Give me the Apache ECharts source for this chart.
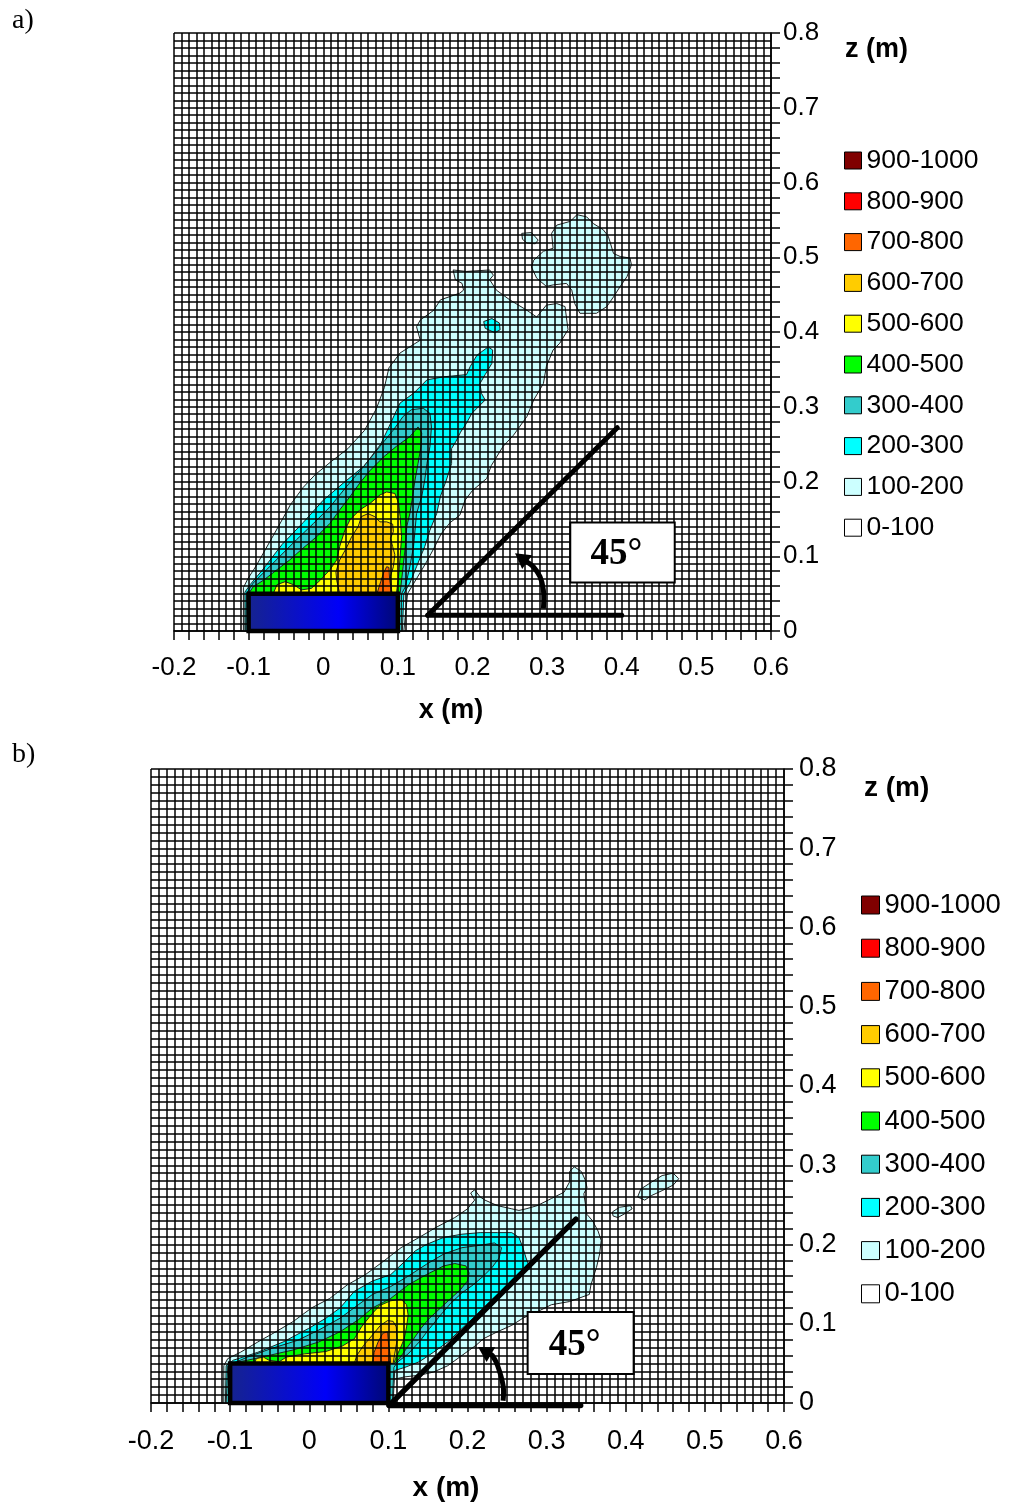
<!DOCTYPE html>
<html><head><meta charset="utf-8">
<script src="https://cdn.jsdelivr.net/npm/echarts@6/dist/echarts.min.js"></script>
<style>html,body{margin:0;padding:0;background:#fff}#chart{width:1026px;height:1502px}</style>
</head><body><div id="chart"></div>
<script>
// ---------- data ----------
const levels = ['900-1000','800-900','700-800','600-700','500-600','400-500','300-400','200-300','100-200','0-100'];
const xRange = [-0.2, 0.6];   // x (m)
const zRange = [0, 0.8];      // z (m)
const majorStep = 0.1, tickStep = 0.02, meshStep = 0.01;

// chart a) contour polygons [x, z]
const a_100_200 = [
 [[-0.107,0],[-0.107,0.058],[-0.101,0.07],[-0.09,0.087],[-0.077,0.11],[-0.06,0.14],[-0.044,0.169],[-0.027,0.192],[-0.011,0.209],[0.011,0.227],[0.033,0.244],[0.055,0.268],[0.071,0.297],[0.082,0.326],[0.088,0.352],[0.103,0.372],[0.13,0.389],[0.125,0.407],[0.13,0.416],[0.148,0.429],[0.157,0.443],[0.183,0.452],[0.188,0.456],[0.186,0.465],[0.177,0.47],[0.174,0.483],[0.192,0.481],[0.223,0.483],[0.228,0.476],[0.223,0.47],[0.232,0.456],[0.25,0.443],[0.273,0.429],[0.286,0.42],[0.299,0.436],[0.313,0.438],[0.324,0.434],[0.328,0.403],[0.317,0.385],[0.308,0.376],[0.299,0.354],[0.295,0.331],[0.282,0.309],[0.273,0.287],[0.255,0.262],[0.241,0.247],[0.225,0.221],[0.219,0.204],[0.2,0.188],[0.19,0.175],[0.183,0.155],[0.17,0.145],[0.158,0.13],[0.148,0.11],[0.137,0.09],[0.125,0.07],[0.113,0.05],[0.108,0]],
 [[0.279,0.487],[0.282,0.496],[0.295,0.508],[0.308,0.512],[0.306,0.532],[0.313,0.543],[0.331,0.548],[0.34,0.557],[0.353,0.554],[0.362,0.545],[0.375,0.537],[0.382,0.528],[0.389,0.505],[0.398,0.501],[0.411,0.499],[0.413,0.49],[0.407,0.474],[0.398,0.461],[0.389,0.447],[0.38,0.434],[0.366,0.425],[0.344,0.425],[0.337,0.438],[0.333,0.456],[0.326,0.465],[0.308,0.463],[0.299,0.461],[0.286,0.472]],
 [[0.266,0.532],[0.279,0.533],[0.288,0.523],[0.284,0.518],[0.273,0.519],[0.267,0.524]]
];
const a_200_300 = [
 [[-0.105,0],[-0.105,0.052],[-0.098,0.062],[-0.082,0.081],[-0.055,0.116],[-0.027,0.145],[0,0.175],[0.027,0.198],[0.055,0.221],[0.077,0.25],[0.088,0.273],[0.099,0.297],[0.103,0.305],[0.121,0.318],[0.139,0.336],[0.161,0.34],[0.192,0.343],[0.197,0.354],[0.206,0.369],[0.221,0.38],[0.227,0.376],[0.226,0.358],[0.217,0.343],[0.21,0.331],[0.212,0.318],[0.217,0.309],[0.206,0.298],[0.199,0.291],[0.192,0.278],[0.184,0.266],[0.178,0.254],[0.172,0.244],[0.172,0.224],[0.165,0.202],[0.157,0.18],[0.152,0.157],[0.143,0.135],[0.136,0.113],[0.125,0.086],[0.116,0.064],[0.108,0.05],[0.106,0]],
 [[0.215,0.414],[0.226,0.418],[0.236,0.412],[0.237,0.403],[0.23,0.399],[0.217,0.405]]
];
const a_300_400 = [
 [[-0.104,0],[-0.103,0.05],[-0.094,0.064],[-0.076,0.082],[-0.058,0.1],[-0.036,0.122],[-0.013,0.144],[0.009,0.166],[0.031,0.193],[0.054,0.22],[0.076,0.247],[0.094,0.269],[0.107,0.287],[0.118,0.296],[0.134,0.298],[0.143,0.291],[0.145,0.273],[0.143,0.247],[0.139,0.224],[0.136,0.202],[0.132,0.18],[0.125,0.157],[0.123,0.135],[0.121,0.113],[0.116,0.086],[0.11,0.059],[0.105,0.05],[0.105,0]]
];
const a_400_500 = [
 [[-0.1,0.05],[-0.094,0.059],[-0.08,0.068],[-0.062,0.082],[-0.045,0.095],[-0.027,0.111],[-0.009,0.126],[0.009,0.144],[0.022,0.162],[0.036,0.18],[0.049,0.198],[0.063,0.215],[0.081,0.233],[0.098,0.247],[0.116,0.26],[0.127,0.273],[0.132,0.265],[0.131,0.247],[0.127,0.224],[0.123,0.202],[0.119,0.175],[0.116,0.157],[0.112,0.14],[0.11,0.113],[0.107,0.086],[0.103,0.05]]
];
const a_500_600 = [
 [[-0.067,0.05],[-0.062,0.062],[-0.051,0.066],[-0.04,0.062],[-0.029,0.055],[-0.016,0.057],[-0.004,0.068],[0.009,0.082],[0.018,0.095],[0.022,0.113],[0.029,0.135],[0.036,0.149],[0.049,0.162],[0.063,0.171],[0.076,0.182],[0.085,0.186],[0.096,0.184],[0.101,0.171],[0.103,0.153],[0.105,0.126],[0.103,0.099],[0.101,0.073],[0.098,0.05]]
];
const a_600_700 = [
 [[0.022,0.05],[0.018,0.068],[0.017,0.079],[0.022,0.095],[0.031,0.111],[0.038,0.126],[0.047,0.14],[0.051,0.153],[0.06,0.157],[0.069,0.153],[0.076,0.146],[0.085,0.146],[0.093,0.143],[0.094,0.133],[0.09,0.124],[0.093,0.113],[0.096,0.102],[0.094,0.086],[0.09,0.073],[0.092,0.05]]
];
const a_700_800 = [
 [[0.072,0.05],[0.077,0.066],[0.081,0.078],[0.085,0.086],[0.088,0.085],[0.089,0.068],[0.092,0.05]]
];

// chart b) contour polygons [x, z]
const b_100_200 = [
 [[-0.108,0],[-0.108,0.047],[-0.103,0.056],[-0.087,0.064],[-0.065,0.077],[-0.042,0.09],[-0.02,0.103],[0.003,0.12],[0.026,0.132],[0.048,0.149],[0.071,0.162],[0.094,0.179],[0.116,0.196],[0.139,0.209],[0.161,0.222],[0.184,0.234],[0.2,0.245],[0.209,0.256],[0.204,0.265],[0.209,0.269],[0.216,0.26],[0.222,0.256],[0.238,0.249],[0.256,0.245],[0.265,0.243],[0.274,0.245],[0.288,0.249],[0.306,0.258],[0.322,0.266],[0.329,0.279],[0.329,0.292],[0.335,0.298],[0.344,0.292],[0.349,0.281],[0.351,0.272],[0.347,0.264],[0.349,0.251],[0.351,0.238],[0.358,0.23],[0.365,0.217],[0.369,0.205],[0.367,0.188],[0.363,0.171],[0.356,0.149],[0.354,0.137],[0.329,0.128],[0.306,0.124],[0.288,0.115],[0.27,0.107],[0.256,0.098],[0.238,0.09],[0.22,0.081],[0.211,0.073],[0.193,0.06],[0.175,0.047],[0.157,0.039],[0.139,0.035],[0.121,0.033],[0.107,0.03],[0.105,0]],
 [[0.415,0.26],[0.419,0.27],[0.433,0.279],[0.446,0.287],[0.46,0.29],[0.467,0.283],[0.46,0.275],[0.446,0.268],[0.433,0.262],[0.424,0.256]],
 [[0.383,0.241],[0.392,0.247],[0.406,0.249],[0.408,0.245],[0.399,0.239],[0.39,0.234],[0.384,0.236]]
];
const b_200_300 = [
 [[-0.106,0],[-0.105,0.047],[-0.096,0.054],[-0.065,0.064],[-0.033,0.077],[-0.001,0.094],[0.021,0.107],[0.039,0.12],[0.057,0.141],[0.08,0.154],[0.103,0.162],[0.121,0.179],[0.134,0.192],[0.148,0.2],[0.17,0.209],[0.193,0.213],[0.216,0.215],[0.238,0.215],[0.256,0.215],[0.265,0.209],[0.27,0.196],[0.274,0.183],[0.277,0.175],[0.27,0.166],[0.256,0.149],[0.238,0.137],[0.22,0.12],[0.207,0.107],[0.193,0.094],[0.175,0.077],[0.157,0.064],[0.139,0.052],[0.121,0.045],[0.108,0.041],[0.106,0]]
];
const b_300_400 = [
 [[-0.105,0],[-0.103,0.047],[-0.078,0.058],[-0.047,0.069],[-0.015,0.079],[0.012,0.092],[0.039,0.107],[0.062,0.124],[0.08,0.137],[0.103,0.147],[0.125,0.16],[0.148,0.175],[0.17,0.188],[0.193,0.196],[0.216,0.199],[0.234,0.202],[0.243,0.196],[0.24,0.183],[0.231,0.171],[0.22,0.16],[0.207,0.149],[0.193,0.139],[0.179,0.126],[0.166,0.111],[0.152,0.094],[0.139,0.077],[0.125,0.062],[0.112,0.052],[0.107,0.045],[0.105,0]]
];
const b_400_500 = [
 [[-0.101,0.05],[-0.078,0.054],[-0.051,0.06],[-0.02,0.067],[0.012,0.077],[0.039,0.09],[0.062,0.105],[0.08,0.12],[0.103,0.132],[0.125,0.149],[0.148,0.162],[0.17,0.173],[0.184,0.176],[0.198,0.173],[0.202,0.164],[0.2,0.154],[0.191,0.143],[0.179,0.132],[0.166,0.12],[0.152,0.107],[0.141,0.094],[0.132,0.081],[0.123,0.069],[0.114,0.056],[0.108,0.05]]
];
const b_500_600 = [
 [[-0.069,0.05],[-0.067,0.056],[-0.058,0.058],[-0.051,0.054],[-0.038,0.052],[-0.029,0.058],[-0.006,0.062],[0.021,0.065],[0.042,0.072],[0.057,0.081],[0.066,0.096],[0.078,0.111],[0.089,0.123],[0.103,0.129],[0.116,0.131],[0.123,0.124],[0.125,0.111],[0.123,0.096],[0.12,0.081],[0.115,0.069],[0.109,0.056],[0.107,0.05]]
];
const b_600_700 = [
 [[0.057,0.05],[0.06,0.06],[0.069,0.073],[0.08,0.086],[0.09,0.098],[0.099,0.104],[0.106,0.103],[0.11,0.096],[0.111,0.079],[0.108,0.062],[0.106,0.05]]
];
const b_700_800 = [
 [[0.08,0.05],[0.082,0.064],[0.087,0.077],[0.093,0.088],[0.099,0.09],[0.1,0.077],[0.102,0.062],[0.103,0.05]]
];

// annotations (data coordinates)
const burner = [[-0.1, 0], [0.1, 0.05]];
const a_base = [[0.14, 0.021], [0.40, 0.021]];
const a_slope = [[0.14, 0.021], [0.394, 0.272]];
const a_box = [[0.331, 0.065], [0.471, 0.145]];
const a_arrow = [[0.295, 0.030], [0.295, 0.055], [0.2905, 0.0726], [0.2815, 0.086], [0.2726, 0.0927], [0.257, 0.104]];
const b_base = [[0.101, -0.003], [0.343, -0.003]];
const b_slope = [[0.101, -0.003], [0.337, 0.232]];
const b_box = [[0.276, 0.0366], [0.410, 0.1148]];
const b_arrow = [[0.245, 0.0028], [0.245, 0.0218], [0.238, 0.0473], [0.2314, 0.06], [0.2133, 0.0707]];
const angleText = '45\u00b0';

// ---------- styles ----------
const levelColors = {
 '900-1000':'#800000','800-900':'#ff0000','700-800':'#ff6600','600-700':'#ffcc00','500-600':'#ffff00',
 '400-500':'#00ff00','300-400':'#33cccc','200-300':'#00ffff','100-200':'#ccffff','0-100':'#ffffff'
};
const SANS = '"Liberation Sans", Arial, sans-serif';
const SERIF = '"Liberation Serif", "Times New Roman", serif';

const chartA = {'100-200':a_100_200,'200-300':a_200_300,'300-400':a_300_400,'400-500':a_400_500,'500-600':a_500_600,'600-700':a_600_700,'700-800':a_700_800};
const chartB = {'100-200':b_100_200,'200-300':b_200_300,'300-400':b_300_400,'400-500':b_400_500,'500-600':b_500_600,'600-700':b_600_700,'700-800':b_700_800};

function contourSeries(name, polys, axisIdx) {
  const order = 10 - levels.indexOf(name);
  return {
    type: 'custom', name: name, coordinateSystem: 'cartesian2d',
    xAxisIndex: axisIdx, yAxisIndex: axisIdx, z: 1, silent: true, clip: false,
    itemStyle: {color: levelColors[name]},
    data: polys.map(p => [p[0][0], p[0][1]]),
    renderItem: function (params, api) {
      const pts = polys[params.dataIndex].map(pt => api.coord(pt));
      return {type: 'polygon', z2: order, shape: {points: pts},
        style: {fill: levelColors[name], stroke: '#222', lineWidth: 1}};
    }
  };
}

function annotSeries(axisIdx, base, slope, box, arrow, lw) {
  return {
    type: 'custom', coordinateSystem: 'cartesian2d', xAxisIndex: axisIdx, yAxisIndex: axisIdx,
    z: 10, silent: true, clip: false,
    data: [[burner[0][0], burner[0][1]]],
    renderItem: function (params, api) {
      const b0 = api.coord(burner[0]), b1 = api.coord(burner[1]);
      const p0 = api.coord(base[0]), p1 = api.coord(base[1]);
      const s0 = api.coord(slope[0]), s1 = api.coord(slope[1]);
      const r0 = api.coord(box[0]), r1 = api.coord(box[1]);
      const ap = arrow.map(pt => api.coord(pt));
      const tip = ap[ap.length - 1], prev = ap[ap.length - 2];
      let dx = tip[0] - prev[0], dy = tip[1] - prev[1];
      const L = Math.sqrt(dx * dx + dy * dy); dx /= L; dy /= L;
      const hl = 15, hw = 8.5;
      const bx = tip[0] - dx * hl, by = tip[1] - dy * hl;
      const shaft = ap.slice(0, ap.length - 1).concat([[bx + dx * 2, by + dy * 2]]);
      return {type: 'group', children: [
        {type: 'rect', shape: {x: b0[0], y: b1[1], width: b1[0] - b0[0], height: b0[1] - b1[1]},
          style: {fill: new echarts.graphic.LinearGradient(0, 0, 1, 0, [
            {offset: 0, color: '#16248c'}, {offset: 0.6, color: '#0000f8'}, {offset: 1, color: '#000870'}]),
            stroke: '#000', lineWidth: 4.5}},
        {type: 'line', shape: {x1: p0[0], y1: p0[1], x2: p1[0], y2: p1[1]}, style: {stroke: '#000', lineWidth: lw, lineCap: 'round'}},
        {type: 'line', shape: {x1: s0[0], y1: s0[1], x2: s1[0], y2: s1[1]}, style: {stroke: '#000', lineWidth: lw, lineCap: 'round'}},
        {type: 'rect', shape: {x: r0[0], y: r1[1], width: r1[0] - r0[0], height: r0[1] - r1[1]},
          style: {fill: '#fff', stroke: '#000', lineWidth: 2}},
        {type: 'text', style: {text: angleText, x: (r0[0] + r1[0]) / 2 - 6, y: (r0[1] + r1[1]) / 2 + 2,
          fontSize: 37, fontFamily: SERIF, fontWeight: 'bold', fill: '#000', align: 'center', verticalAlign: 'middle'}},
        {type: 'polyline', shape: {points: shaft, smooth: 0.4}, style: {stroke: '#000', lineWidth: 5, fill: null}},
        {type: 'polygon', shape: {points: [tip, [bx - dy * hw, by + dx * hw], [bx + dy * hw, by - dx * hw]]}, style: {fill: '#000'}}
      ]};
    }
  };
}

function visibleX(gi, fs, margin) {
  return {type: 'value', gridIndex: gi, min: xRange[0], max: xRange[1], interval: majorStep, position: 'bottom',
    axisLine: {show: true, onZero: false, lineStyle: {color: '#000', width: 1.5}},
    axisTick: {show: true, inside: false, length: 9, lineStyle: {color: '#000', width: 1.5}},
    minorTick: {show: true, splitNumber: Math.round(majorStep / tickStep), length: 9, lineStyle: {color: '#000', width: 1.5}},
    axisLabel: {color: '#000', fontSize: fs, fontFamily: SANS, margin: margin},
    splitLine: {show: false}, minorSplitLine: {show: false}};
}
function visibleY(gi, fs, margin) {
  return {type: 'value', gridIndex: gi, min: zRange[0], max: zRange[1], interval: majorStep, position: 'right',
    axisLine: {show: true, onZero: false, lineStyle: {color: '#000', width: 1.5}},
    axisTick: {show: true, inside: false, length: 9, lineStyle: {color: '#000', width: 1.5}},
    minorTick: {show: true, splitNumber: Math.round(majorStep / tickStep), length: 9, lineStyle: {color: '#000', width: 1.5}},
    axisLabel: {color: '#000', fontSize: fs, fontFamily: SANS, margin: margin},
    splitLine: {show: false}, minorSplitLine: {show: false}};
}
function meshX(gi) {
  return {type: 'value', gridIndex: gi, min: xRange[0], max: xRange[1], interval: meshStep, position: 'top', z: 5,
    axisLine: {show: false}, axisTick: {show: false}, axisLabel: {show: false},
    splitLine: {show: true, lineStyle: {color: '#000', width: 1.5}}};
}
function meshY(gi) {
  return {type: 'value', gridIndex: gi, min: zRange[0], max: zRange[1], interval: meshStep, position: 'left', z: 5,
    axisLine: {show: false}, axisTick: {show: false}, axisLabel: {show: false},
    splitLine: {show: true, lineStyle: {color: '#000', width: 1.5}}};
}
function legendCfg(left, top, size, fs, lh, gap) {
  return {orient: 'vertical', left: left, top: top, padding: 0, itemWidth: size, itemHeight: size, itemGap: gap,
    selectedMode: false, icon: 'rect',
    textStyle: {color: '#000', fontSize: fs, fontFamily: SANS, lineHeight: lh},
    data: levels.map(n => ({name: n, icon: 'rect', itemStyle: {color: levelColors[n], borderColor: '#000', borderWidth: 1}}))};
}

const series = [];
['100-200','200-300','300-400','400-500','500-600','600-700','700-800'].forEach(n => {
  series.push(contourSeries(n, chartA[n], 0));
  series.push(contourSeries(n, chartB[n], 2));
});
['900-1000','800-900','0-100'].forEach(n => series.push({type: 'custom', name: n, coordinateSystem: 'cartesian2d',
  xAxisIndex: 0, yAxisIndex: 0, itemStyle: {color: levelColors[n]}, data: [], renderItem: () => null}));
series.push(annotSeries(0, a_base, a_slope, a_box, a_arrow, 5));
series.push(annotSeries(2, b_base, b_slope, b_box, b_arrow, 5.5));

const chart = echarts.init(document.getElementById('chart'), null, {renderer: 'canvas'});
chart.setOption({
  backgroundColor: '#fff',
  animation: false,
  grid: [
    {left: 174, top: 33, width: 597, height: 598, containLabel: false, outerBoundsMode: 'none'},
    {left: 151, top: 769, width: 633, height: 634, containLabel: false, outerBoundsMode: 'none'}
  ],
  xAxis: [visibleX(0, 26, 24), meshX(0), visibleX(1, 27, 25), meshX(1)],
  yAxis: [visibleY(0, 26, 12), meshY(0), visibleY(1, 27, 15), meshY(1)],
  legend: [legendCfg(844, 147, 17, 26.5, 26, 13.8), legendCfg(861, 891, 18, 27.5, 28, 15.2)],
  graphic: [
    {type: 'text', x: 12, y: 21, style: {text: 'a)', fill: '#000', font: '28px ' + SERIF, verticalAlign: 'middle'}},
    {type: 'text', x: 12, y: 755, style: {text: 'b)', fill: '#000', font: '28px ' + SERIF, verticalAlign: 'middle'}},
    {type: 'text', x: 451, y: 711, style: {text: 'x (m)', fill: '#000', font: 'bold 27px ' + SANS, align: 'center', verticalAlign: 'middle'}},
    {type: 'text', x: 446, y: 1488, style: {text: 'x (m)', fill: '#000', font: 'bold 28px ' + SANS, align: 'center', verticalAlign: 'middle'}},
    {type: 'text', x: 845, y: 50, style: {text: 'z (m)', fill: '#000', font: 'bold 27px ' + SANS, verticalAlign: 'middle'}},
    {type: 'text', x: 864, y: 788, style: {text: 'z (m)', fill: '#000', font: 'bold 28px ' + SANS, verticalAlign: 'middle'}}
  ],
  series: series
});
</script></body></html>
